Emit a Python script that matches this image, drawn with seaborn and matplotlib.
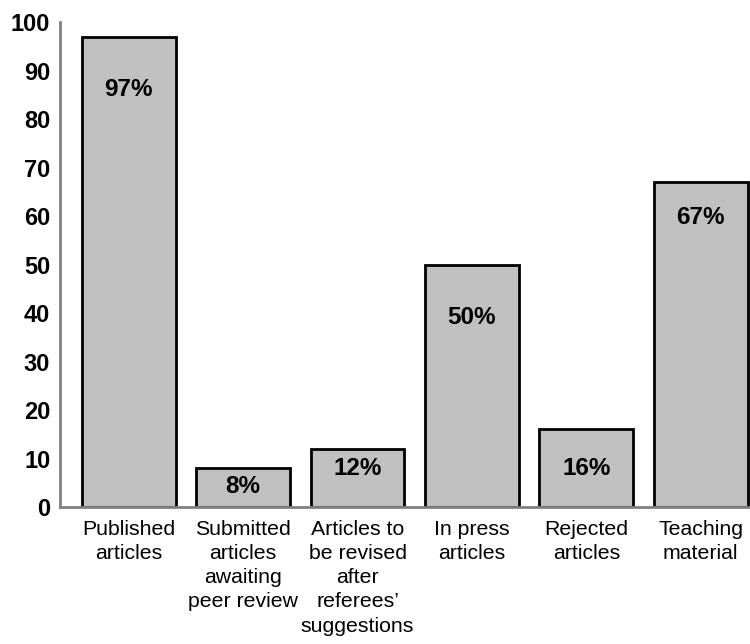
import matplotlib
matplotlib.use("Agg")
import matplotlib.pyplot as plt
import seaborn as sns
import pandas as pd

categories = [
    "Published\narticles",
    "Submitted\narticles\nawaiting\npeer review",
    "Articles to\nbe revised\nafter\nreferees’\nsuggestions",
    "In press\narticles",
    "Rejected\narticles",
    "Teaching\nmaterial",
]
values = [97, 8, 12, 50, 16, 67]
yticks = [0, 10, 20, 30, 40, 50, 60, 70, 80, 90, 100]
# how far below each bar top its percentage label sits (data units)
label_drop = [11, 3.7, 4, 11, 8, 7.4]

sns.set_style("white")
plt.rcParams["font.family"] = ["Liberation Sans", "DejaVu Sans"]
plt.rcParams["text.color"] = "black"
plt.rcParams["xtick.color"] = "black"
plt.rcParams["ytick.color"] = "black"

df = pd.DataFrame({"category": categories, "value": values})

fig = plt.figure(figsize=(7.5, 6.44), dpi=100)
ax = fig.add_axes([0.08, 0.2127, 0.92, 0.7531])

sns.barplot(data=df, x="category", y="value", color="#C0C0C0",
            edgecolor="black", linewidth=2, width=0.82, saturation=1,
            ax=ax)

for i, (v, d) in enumerate(zip(values, label_drop)):
    ax.text(i, v - d, f"{v}%", ha="center", va="center",
            fontsize=17.5, fontweight="bold", color="black")

ax.set_ylim(0, 100)
ax.set_xlim(-0.6, 5.43)
ax.set_yticks(yticks)
ax.set_yticklabels([str(t) for t in yticks], fontsize=17, fontweight="bold",
                   color="black")
ax.tick_params(axis="y", length=0, pad=7)
ax.tick_params(axis="x", length=0, pad=9, labelsize=15.3, labelcolor="black")
for lbl in ax.get_xticklabels():
    lbl.set_linespacing(1.35)
ax.set_xlabel("")
ax.set_ylabel("")

for side in ("top", "right"):
    ax.spines[side].set_visible(False)
for side in ("left", "bottom"):
    ax.spines[side].set_color("#808080")
    ax.spines[side].set_linewidth(2)

fig.savefig("out.png", dpi=100)
